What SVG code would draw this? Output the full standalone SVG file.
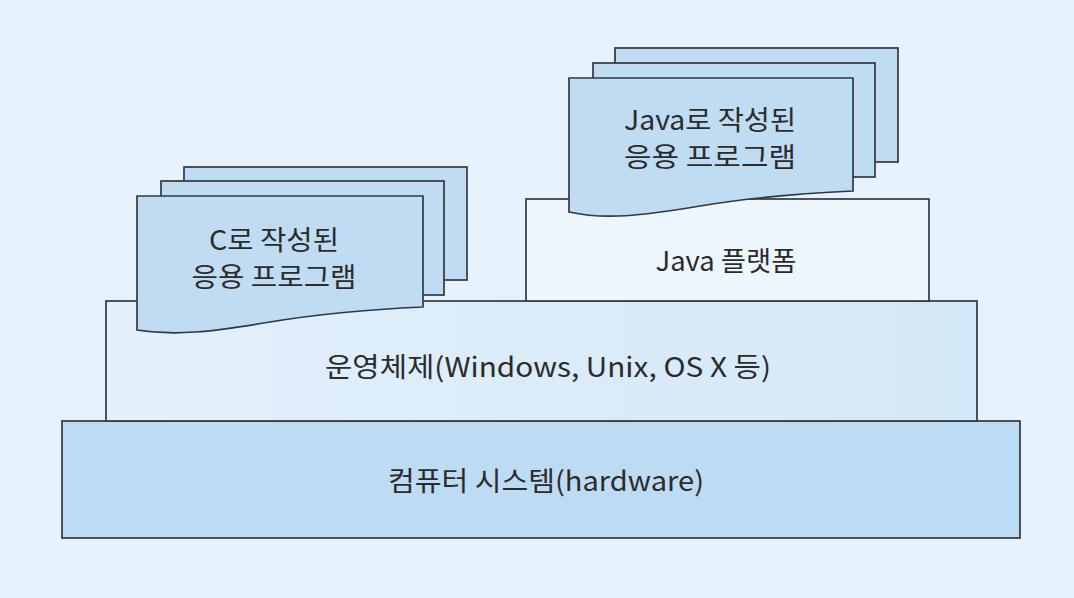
<svg xmlns="http://www.w3.org/2000/svg" width="1074" height="598" viewBox="0 0 1074 598">
<defs>
<linearGradient id="osg" x1="0" y1="0" x2="1" y2="0">
<stop offset="0" stop-color="#e3f0fb"/>
<stop offset="1" stop-color="#d3e8f8"/>
</linearGradient>
<style>
.box{stroke:#33383e;stroke-width:1.7}
.doc{fill:#bfdcf3;stroke:#33383e;stroke-width:1.7}
.t{font-family:"Noto Sans CJK KR","Noto Sans",sans-serif;font-size:27px;fill:#2b2b2b;text-anchor:middle}
</style>
</defs>
<rect x="0" y="0" width="1074" height="598" fill="#e6f2fc"/>
<g id="hardware">
<rect class="box" x="62" y="421" width="958" height="117" fill="#bddcf3"/>
<text class="t" x="546" y="491" textLength="316" lengthAdjust="spacingAndGlyphs">컴퓨터 시스템(hardware)</text>
</g>
<g id="os">
<rect class="box" x="106" y="301" width="871" height="120" fill="url(#osg)"/>
<text class="t" x="548" y="377" textLength="446" lengthAdjust="spacingAndGlyphs">운영체제(Windows, Unix, OS X 등)</text>
</g>
<g id="java-platform">
<rect class="box" x="526" y="199" width="403" height="102" fill="#edf6fd"/>
<text class="t" x="726" y="271" textLength="141" lengthAdjust="spacingAndGlyphs">Java 플랫폼</text>
</g>
<g id="c-app">
<rect class="doc" x="184" y="167" width="283" height="113"/>
<rect class="doc" x="161" y="181" width="283" height="114"/>
<path class="doc" d="M137,196 H423 V307 C380,309 330,312 270,322 C210,332 175,336 137,330 Z"/>
<text class="t" x="274" y="250" textLength="130" lengthAdjust="spacingAndGlyphs">C로 작성된</text>
<text class="t" x="274" y="287" textLength="165" lengthAdjust="spacingAndGlyphs">응용 프로그램</text>
</g>
<g id="java-app">
<rect class="doc" x="615" y="48" width="283" height="114"/>
<rect class="doc" x="593" y="63" width="282" height="114"/>
<path class="doc" d="M569,78 H853 V191 C810,193 760,196 700,206 C640,216 605,220 569,212 Z"/>
<text class="t" x="710" y="130" textLength="172" lengthAdjust="spacingAndGlyphs">Java로 작성된</text>
<text class="t" x="710" y="167" textLength="172" lengthAdjust="spacingAndGlyphs">응용 프로그램</text>
</g>
<g id="connectors"/>
</svg>
